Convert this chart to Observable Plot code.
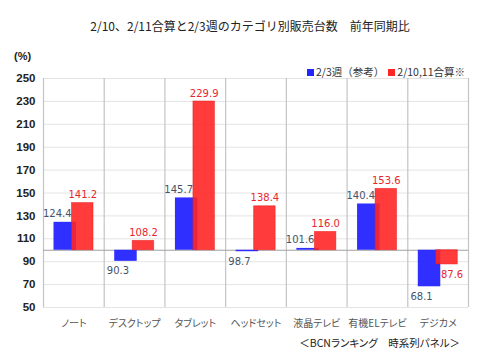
<!DOCTYPE html>
<html>
<head>
<meta charset="utf-8">
<script src="https://cdn.jsdelivr.net/npm/d3@7"></script>
<script src="https://cdn.jsdelivr.net/npm/@observablehq/plot@0.6"></script>
<style>
  body { margin: 0; background: #fff; }
  #wrap { position: relative; width: 500px; height: 356px; font-family: "Noto Sans CJK JP", sans-serif; color: #222; }
  #chart { position: absolute; left: 0; top: 0; }
  #chart g[aria-label="x-axis tick label"] text { font-feature-settings: "palt"; }
  .ov { position: absolute; white-space: nowrap; line-height: 1; }
  #title { top: 20px; left: 0; width: 500px; text-align: center; font-size: 12px; color: #222; }
  #unit { top: 51px; left: 14px; font-size: 11px; font-weight: bold; font-family: "Liberation Sans", sans-serif; }
  #legend { top: 67px; right: 35px; font-size: 10.5px; color: #333; }
  #legend .sw { display: inline-block; width: 7px; height: 7px; margin-right: 2px; vertical-align: 0px; }
  #caption { top: 338px; right: 40px; font-size: 10.5px; color: #222; font-feature-settings: "palt"; }
</style>
</head>
<body>
<div id="wrap">
  <div id="chart"></div>
  <div id="title" class="ov"></div>
  <div id="unit" class="ov"></div>
  <div id="legend" class="ov"></div>
  <div id="caption" class="ov"></div>
</div>
<script>
const titleText = "2/10、2/11合算と2/3週のカテゴリ別販売台数　前年同期比";
const unitText = "(%)";
const captionText = "＜BCNランキング　時系列パネル＞";
const categories = ["ノート", "デスクトップ", "タブレット", "ヘッドセット", "液晶テレビ", "有機ELテレビ", "デジカメ"];
const seriesNames = ["2/3週（参考）", "2/10,11合算※"];
const seriesColors = ["#2424ff", "#ff2626"];
const weekValues = [124.4, 90.3, 145.7, 98.7, 101.6, 140.4, 68.1];
const comboValues = [141.2, 108.2, 229.9, 138.4, 116.0, 153.6, 87.6];
const yTicks = [50, 70, 90, 110, 130, 150, 170, 190, 210, 230, 250];
const baseValue = 100;

document.getElementById("title").textContent = titleText;
document.getElementById("unit").textContent = unitText;
document.getElementById("caption").textContent = captionText;
const leg = document.getElementById("legend");
seriesNames.forEach((n, i) => {
  const sw = document.createElement("span");
  sw.className = "sw";
  sw.style.background = seriesColors[i];
  leg.appendChild(sw);
  const t = document.createElement("span");
  t.textContent = n;
  t.style.marginRight = i === 0 ? "4px" : "0";
  leg.appendChild(t);
});

const week = categories.map((c, i) => ({cat: c, v: weekValues[i]}));
const combo = categories.map((c, i) => ({cat: c, v: comboValues[i]}));

const W = 500, H = 356, mL = 43, mR = 32, mT = 78, mB = 49;
const bw = (W - mL - mR) / categories.length;
const blueL = 10.5, blueR = 33, redL = 28.5, redR = 50;
const blueDx = (blueL + blueR) / 2 - bw / 2 - 8;
const redDx = (redL + redR) / 2 - bw / 2;
const labelFont = "DejaVu Sans, sans-serif";

const chart = Plot.plot({
  width: W, height: H,
  marginLeft: mL, marginRight: mR, marginTop: mT, marginBottom: mB,
  style: {background: "transparent", overflow: "visible"},
  x: {domain: categories, padding: 0, round: false, label: null},
  y: {domain: [50, 250], label: null},
  marks: [
    Plot.ruleY(yTicks, {stroke: "#e4e4e4", strokeWidth: 1}),
    Plot.ruleX(categories, {x: d => d, dx: -bw / 2, y1: 50, y2: 250, stroke: "#c4c4c4", strokeWidth: 1.2}),
    Plot.ruleX(categories.slice(-1), {x: d => d, dx: bw / 2, y1: 50, y2: 250, stroke: "#c4c4c4", strokeWidth: 1.2}),
    Plot.ruleY([baseValue], {stroke: "#a0a0a0", strokeWidth: 1.2}),
    Plot.barY(week, {x: "cat", y1: baseValue, y2: "v", fill: seriesColors[0], fillOpacity: 0.95, insetLeft: blueL, insetRight: bw - blueR}),
    Plot.barY(combo, {x: "cat", y1: baseValue, y2: "v", fill: seriesColors[1], fillOpacity: 0.9, stroke: "#e81818", strokeOpacity: 0.6, strokeWidth: 0.8, insetLeft: redL, insetRight: bw - redR}),
    Plot.text(week.filter(d => d.v >= baseValue), {x: "cat", y: "v", text: d => d.v.toFixed(1), dx: blueDx, dy: -5, lineAnchor: "bottom", fill: "#46536a", fontSize: 10, fontFamily: labelFont}),
    Plot.text(week.filter(d => d.v < baseValue), {x: "cat", y: "v", text: d => d.v.toFixed(1), dx: blueDx, dy: 6, lineAnchor: "top", fill: "#46536a", fontSize: 10, fontFamily: labelFont}),
    Plot.text(combo.filter(d => d.v >= baseValue), {x: "cat", y: "v", text: d => d.v.toFixed(1), dx: redDx, dy: -5, lineAnchor: "bottom", fill: "#e8262e", fontSize: 10, fontFamily: labelFont}),
    Plot.text(combo.filter(d => d.v < baseValue), {x: "cat", y: "v", text: d => d.v.toFixed(1), dx: redDx + 5, dy: 6, lineAnchor: "top", fill: "#e8262e", fontSize: 10, fontFamily: labelFont}),
    Plot.axisY({ticks: yTicks, tickSize: 0, tickPadding: 8, fontSize: 11.5, fontWeight: "bold", fontFamily: "Liberation Sans, sans-serif", fill: "#222", label: null}),
    Plot.axisX({tickSize: 0, tickPadding: 12, fontSize: 10, fontFamily: "Noto Sans CJK JP, sans-serif", fill: "#555", label: null})
  ]
});
document.getElementById("chart").appendChild(chart);
</script>
</body>
</html>
